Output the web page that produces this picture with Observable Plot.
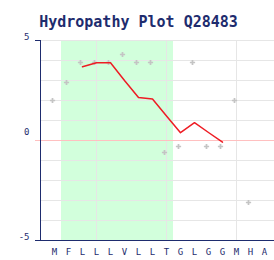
<!DOCTYPE html>
<html><head><meta charset="utf-8">
<script src="https://cdn.jsdelivr.net/npm/d3@7"></script>
<script src="https://cdn.jsdelivr.net/npm/@observablehq/plot@0.6"></script>
<style>body{margin:0;background:#fff} #chart svg{display:block}</style>
</head><body><div id="chart"></div>
<script>
const title = "Hydropathy Plot Q28483";
const residues = ["M","F","L","L","L","V","L","L","T","G","L","G","G","M","H","A"];
const hydropathy = [1.9,2.8,3.8,3.8,3.8,4.2,3.8,3.8,-0.7,-0.4,3.8,-0.4,-0.4,1.9,-3.2];
const windowStart = 2;
const windowAvg = [3.69,3.89,3.89,3.0,2.15,2.07,1.23,0.39,0.89,0.40,-0.08];
const tmStart = 1, tmEnd = 8;
const yTicks = [5,0,-5];
const yGrid = [5,4,3,2,1,-1,-2,-3,-4];
const xGrid = [3,8,13];

const navy = "#1e2c6e";
const font = "DejaVu Sans Mono, Liberation Mono, monospace";
const points = hydropathy.map((v,i)=>({i, v}));
const line = windowAvg.map((v,k)=>({i: windowStart + k, v}));
const band = [{x1: tmStart - 0.5, x2: tmEnd + 0.5}];

const chart = Plot.plot({
  width: 274, height: 260,
  marginTop: 40, marginBottom: 20, marginLeft: 40, marginRight: 0,
  style: {fontFamily: font, background: "#fff"},
  x: {domain: [-1, 16], range: [40, 278], axis: null},
  y: {domain: [-5, 5], axis: null},
  marks: [
    Plot.rect(band, {x1: "x1", x2: "x2", y1: -5, y2: 5, fill: "#d2ffdc"}),
    Plot.ruleY(yGrid, {stroke: "#e6e6e6", strokeWidth: 1}),
    Plot.ruleX(xGrid, {stroke: "#e6e6e6", strokeWidth: 1}),
    Plot.ruleY([5, -5], {stroke: navy, insetLeft: -5, insetRight: 234}),
    Plot.ruleY([0], {stroke: "#ffc0c0", strokeWidth: 1, insetLeft: -5}),
    Plot.ruleY([-5], {stroke: navy}),
    Plot.ruleX([-1], {stroke: navy}),
    Plot.text(yTicks.filter(d=>d!==0), {x: -1, y: d=>d, text: d=>d<0?"-"+(-d):String(d), textAnchor: "end", dx: -11, dy: -3, fill: navy, fontSize: 9}),
    Plot.text(yTicks.filter(d=>d===0), {x: -1, y: d=>d, text: d=>String(d), textAnchor: "end", dx: -11, dy: -8, fill: navy, fontSize: 9}),
    Plot.text(residues, {x: (d,i)=>i, y: -5, text: d=>d, dy: 12, fill: navy, fontSize: 9}),
    Plot.dot(points, {x: "i", y: "v", symbol: "cross", r: 2.2, fill: "#c4c4c4", stroke: "none", dx: -2, dy: -2}),
    Plot.line(line, {x: "i", y: "v", stroke: "#ee1c24", strokeWidth: 1.5}),
    Plot.text([title], {frameAnchor: "top", dx: -19, dy: -24, text: d=>d, fill: navy, fontSize: 15, fontWeight: "bold"})
  ]
});
document.getElementById("chart").appendChild(chart);
</script>
</body></html>
